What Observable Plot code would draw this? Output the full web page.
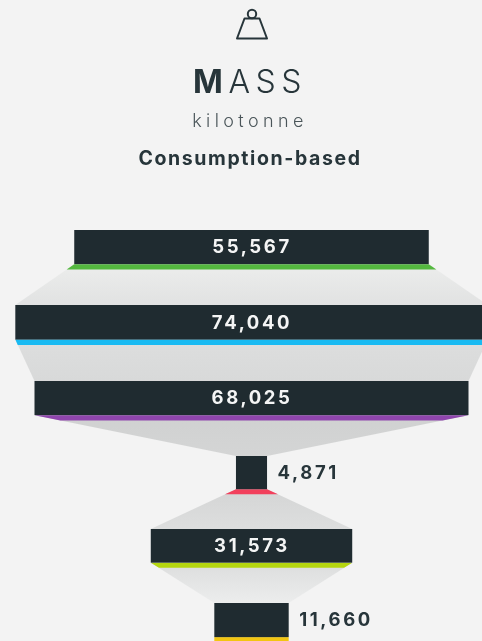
<!DOCTYPE html>
<html>
<head>
<meta charset="utf-8">
<script src="https://cdn.jsdelivr.net/npm/d3@7"></script>
<script src="https://cdn.jsdelivr.net/npm/@observablehq/plot@0.6"></script>
<style>
html,body{margin:0;padding:0;background:#f3f3f3;width:482px;height:641px;overflow:hidden}
#head{position:relative;width:482px;height:200px;font-family:Inter,sans-serif;color:#27353a;filter:blur(.45px)}
#head div{position:absolute;left:0;width:500px;text-align:center;white-space:nowrap}
#title{top:63px;font-size:32px;line-height:38px;letter-spacing:5.5px;font-weight:300}
#title b{font-weight:700}
#unit{top:110px;font-size:18px;line-height:22px;letter-spacing:4.4px;font-weight:300;color:#4a5559}
#sub{top:146px;font-size:19.5px;line-height:24px;letter-spacing:1.6px;font-weight:700}
#icon{position:absolute;left:234px;top:7px}
#chart svg{display:block;filter:blur(.45px)}
#chart text{letter-spacing:2.6px}
</style>
</head>
<body>
<div id="head">
<svg id="icon" width="36" height="34" viewBox="0 0 36 34"><g fill="none" stroke="#27353a" stroke-width="2" stroke-linejoin="round"><circle cx="18" cy="7" r="4.2"/><path d="M10.5 11.5H25.5L33 31.5H3Z"/></g></svg>
<div id="title"><b>M</b>ASS</div>
<div id="unit">kilotonne</div>
<div id="sub">Consumption-based</div>
</div>
<div id="chart"></div>
<script>
const values = [55567, 74040, 68025, 4871, 31573, 11660];
const labels = ["55,567", "74,040", "68,025", "4,871", "31,573", "11,660"];
const accents = ["#54b83f", "#19baf2", "#8f45ad", "#f2405c", "#b5d60f", "#f2c511"];
const gradients = [["#ecedec", "#e1e2e2"], ["#dddede", "#d8d9d9"], ["#d0d1d1", "#d4d5d5"], ["#d4d5d5", "#dddede"], ["#dcdddd", "#eceded"]];

const stages = values.map((v, i) => ({i, v, label: labels[i], accent: accents[i]}));
const barH = 0.455, accentH = 0.07, pxPerUnit = 0.00638;
const half = (i) => values[i] / 2;
const lerp = (a, b, t) => a + (b - a) * t;

const connectors = stages.slice(0, -1).flatMap((s) => {
  const a = half(s.i), b = half(s.i + 1), y0 = s.i + barH, y1 = s.i + 1;
  const t = accentH / (y1 - y0), m = lerp(a, b, t);
  return [
    Plot.areaX([{x1: -a, x2: a, y: y0}, {x1: -b, x2: b, y: y1}],
      {x1: "x1", x2: "x2", y: "y", fill: `url(#g${s.i})`}),
    Plot.areaX([{x1: -a, x2: a, y: y0}, {x1: -m, x2: m, y: y0 + accentH}],
      {x1: "x1", x2: "x2", y: "y", fill: s.accent})
  ];
});
const last = stages[stages.length - 1];

const gradientDefs = () => {
  const d = d3.create("svg:defs");
  gradients.forEach(([c0, c1], i) => {
    const g = d.append("linearGradient").attr("id", `g${i}`).attr("x1", 0).attr("x2", 0).attr("y1", 0).attr("y2", 1);
    g.append("stop").attr("offset", "0%").attr("stop-color", c0);
    g.append("stop").attr("offset", "100%").attr("stop-color", c1);
  });
  return d.node();
};

const isWide = (d) => d.v > 20000;

const plot = Plot.plot({
  width: 482,
  height: 441,
  margin: 0,
  style: {background: "transparent"},
  x: {axis: null, domain: [-251.5 / pxPerUnit, 230.5 / pxPerUnit], range: [0, 482]},
  y: {axis: null, type: "linear", domain: [0, 1, 2, 3, 4, 5, 6], range: [30, 105, 181, 256, 329, 403, 478]},
  marks: [
    gradientDefs,
    ...connectors,
    Plot.rect([last], {x1: (d) => -d.v / 2, x2: (d) => d.v / 2, y1: (d) => d.i + barH, y2: (d) => d.i + barH + accentH, fill: last.accent}),
    Plot.rect(stages, {x1: (d) => -d.v / 2, x2: (d) => d.v / 2, y1: (d) => d.i, y2: (d) => d.i + barH, fill: "#1f2b30"}),
    Plot.text(stages.filter(isWide), {x: () => 0, y: (d) => d.i + barH / 2, text: "label", fill: "#f4f5f5", fontSize: 18.5, fontWeight: 700, fontFamily: "Inter, sans-serif"}),
    Plot.text(stages.filter((d) => !isWide(d)), {x: (d) => d.v / 2, y: (d) => d.i + barH / 2, text: "label", dx: 10, textAnchor: "start", fill: "#27353a", fontSize: 18.5, fontWeight: 700, fontFamily: "Inter, sans-serif"})
  ]
});
document.getElementById("chart").append(plot);
</script>
</body>
</html>
